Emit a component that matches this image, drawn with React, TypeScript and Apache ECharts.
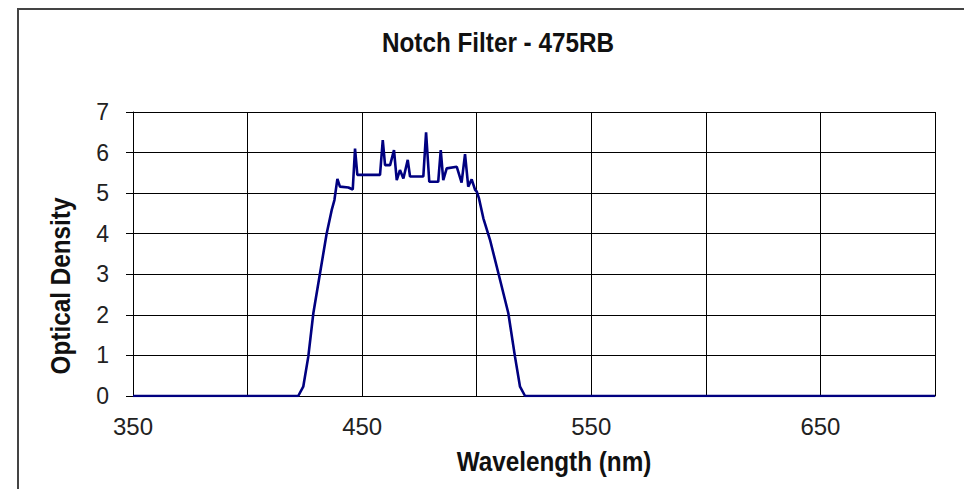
import React, { useEffect, useRef } from "react";
import * as echarts from "echarts";

// Wavelength samples (nm) and optical density readings of the filter
const wavelengths = [
  350, 422.1, 424.3, 426.5, 428.7, 431.6, 434.5, 436.7, 437.9, 439.2, 440.3,
  444.0, 445.9, 446.9, 447.9, 457.8, 459.0, 460.0, 462.2, 463.9, 465.1, 466.5,
  468.0, 469.9, 470.9, 476.7, 477.9, 479.3, 483.2, 484.3, 485.4, 486.9, 491.3,
  493.4, 494.9, 496.3, 497.8, 499.3, 500.0, 501.0, 502.9, 505.8, 510.2, 513.8,
  516.7, 518.9, 521.1, 700,
];
const opticalDensity = [
  0, 0, 0.23, 0.97, 2.04, 3.02, 4.0, 4.58, 4.83, 5.35, 5.16,
  5.14, 5.09, 6.1, 5.45, 5.45, 6.31, 5.69, 5.69, 6.06, 5.32, 5.57,
  5.36, 5.82, 5.41, 5.41, 6.5, 5.28, 5.28, 6.06, 5.32, 5.61, 5.65,
  5.26, 5.96, 5.16, 5.34, 5.08, 5.04, 4.87, 4.38, 3.85, 2.86, 2.04,
  0.97, 0.23, 0, 0,
];
const xLabelTicks = [350, 450, 550, 650];

const titleText = "Notch Filter - 475RB";
const xAxisTitle = "Wavelength (nm)";
const yAxisTitle = "Optical Density";

export default function App() {
  const ref = useRef<HTMLDivElement>(null);

  useEffect(() => {
    if (!ref.current) return;
    const chart = echarts.init(ref.current, undefined, { renderer: "svg" });
    const font = "'Liberation Sans', Arial, sans-serif";
    const boldText = (text: string, x: number, y: number, rotation = 0) => ({
      type: "text",
      x,
      y,
      rotation,
      scaleX: 0.9,
      silent: true,
      style: {
        text,
        fontFamily: font,
        fontSize: 27,
        fontWeight: "bold",
        fill: "#111",
        align: "center",
        verticalAlign: "middle",
      },
    });
    chart.setOption({
      animation: false,
      backgroundColor: "#ffffff",
      graphic: [
        {
          type: "rect",
          shape: { x: 18, y: 9, width: 1000, height: 1000 },
          style: { fill: "none", stroke: "#444", lineWidth: 2 },
          silent: true,
        },
        boldText(titleText, 498, 43),
        boldText(xAxisTitle, 554, 462),
        boldText(yAxisTitle, 61, 286, Math.PI / 2),
      ],
      grid: { left: 133, right: 37, top: 112, bottom: 101 },
      xAxis: {
        type: "value",
        min: 350,
        max: 700,
        interval: 50,
        axisLine: { show: true, lineStyle: { color: "#000", width: 1 } },
        axisTick: { show: false },
        axisLabel: {
          fontFamily: font,
          fontSize: 24,
          color: "#222",
          margin: 18,
          formatter: (v: number) => (xLabelTicks.includes(v) ? String(v) : ""),
        },
        splitLine: { show: true, lineStyle: { color: "#000", width: 1 } },
      },
      yAxis: {
        type: "value",
        min: 0,
        max: 7,
        interval: 1,
        axisLine: { show: true, lineStyle: { color: "#000", width: 1 } },
        axisTick: { show: true, length: 7, lineStyle: { color: "#000" } },
        axisLabel: { fontFamily: font, fontSize: 23, color: "#222", margin: 24 },
        splitLine: { show: true, lineStyle: { color: "#000", width: 1 } },
      },
      series: [
        {
          type: "line",
          data: wavelengths.map((w, i) => [w, opticalDensity[i]]),
          showSymbol: false,
          lineStyle: { color: "#000080", width: 2.6 },
          itemStyle: { color: "#000080" },
        },
      ],
    });
    return () => chart.dispose();
  }, []);

  return <div ref={ref} style={{ width: 972, height: 497, margin: -8 }} />;
}
